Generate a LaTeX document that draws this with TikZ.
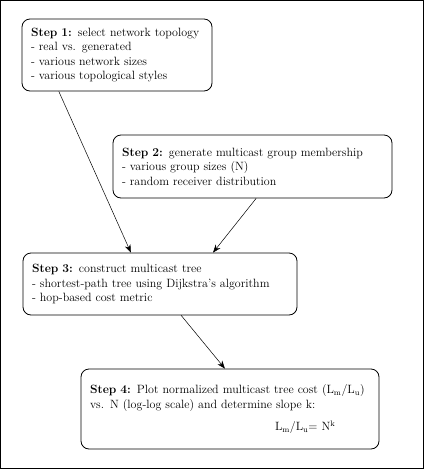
\documentclass[tikz,border=0pt]{standalone}
\usepackage{tikz}
\usetikzlibrary{arrows.meta, calc}

\begin{document}
\begin{tikzpicture}[x=1pt, y=-1pt, >={Stealth[length=8pt, width=6pt]},
    stepbox/.style={draw, line width=0.8pt, rounded corners=8pt, align=left,
        inner xsep=9pt, font=\fontsize{12}{14.5}\selectfont}]
        % ============================================================
        % 1 jedn. = 1pt, os y w dol (jak piksele obrazka 424 x 469)
        % ============================================================
        \useasboundingbox (0,0) rectangle (424,469);

        % === RAMKA ===
        \draw[line width=1pt] (0.5,0.5) rectangle (423.5,468.5);

        % === 1. TOPOLOGIA ===
        \node[stepbox, minimum width=190pt, minimum height=72pt, text width=172pt]
            (s1) at (117,55) {\textbf{Step 1:} select network topology\\
            - real vs. generated\\
            - various network sizes\\
            - various topological styles};

        % === 2. GRUPA MULTICAST ===
        \node[stepbox, minimum width=279pt, minimum height=63pt, text width=261pt]
            (s2) at (252.5,166.5) {\textbf{Step 2:} generate multicast group membership\\
            - various group sizes (N)\\
            - random receiver distribution};

        % === 3. DRZEWO ===
        \node[stepbox, minimum width=274pt, minimum height=62pt, text width=256pt]
            (s3) at (160,284) {\textbf{Step 3:} construct multicast tree\\
            - shortest-path tree using Dijkstra's algorithm\\
            - hop-based cost metric};

        % === 4. WYKRES ===
        \node[stepbox, minimum width=298pt, minimum height=80pt, text width=280pt]
            (s4) at (230,409) {\textbf{Step 4:} Plot normalized multicast tree cost
            (L$_\mathrm{m}$/L$_\mathrm{u}$)\\
            vs. N (log-log scale) and determine slope k:\\[8pt]
            \hspace*{185pt}L$_\mathrm{m}$/L$_\mathrm{u}$= N$^\mathrm{k}$};

        % === STRZALKI ===
        \draw[->, line width=0.5pt] ($(s1.south west)!0.195!(s1.south east)$)
            -- ($(s3.north west)!0.394!(s3.north east)$);
        \draw[->, line width=0.5pt] ($(s2.south west)!0.513!(s2.south east)$)
            -- ($(s3.north west)!0.693!(s3.north east)$);
        \draw[->, line width=0.5pt] ($(s3.south west)!0.577!(s3.south east)$)
            -- ($(s4.north west)!0.483!(s4.north east)$);

    \end{tikzpicture}
\end{document}
